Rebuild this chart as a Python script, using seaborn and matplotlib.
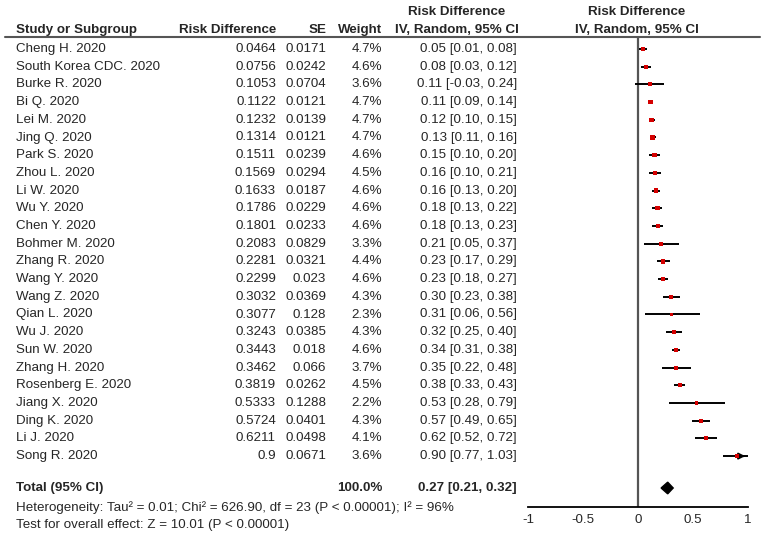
import numpy as np
import pandas as pd
import matplotlib
matplotlib.use("Agg")
import matplotlib.pyplot as plt
import seaborn as sns

sns.set_theme(style="white")
plt.rcParams["font.family"] = ["Liberation Sans", "DejaVu Sans"]

studies = ["Cheng H. 2020", "South Korea CDC. 2020", "Burke R. 2020", "Bi Q. 2020",
           "Lei M. 2020", "Jing Q. 2020", "Park S. 2020", "Zhou L. 2020", "Li W. 2020",
           "Wu Y. 2020", "Chen Y. 2020", "Bohmer M. 2020", "Zhang R. 2020", "Wang Y. 2020",
           "Wang Z. 2020", "Qian L. 2020", "Wu J. 2020", "Sun W. 2020", "Zhang H. 2020",
           "Rosenberg E. 2020", "Jiang X. 2020", "Ding K. 2020", "Li J. 2020", "Song R. 2020"]
risk_diff = [0.0464, 0.0756, 0.1053, 0.1122, 0.1232, 0.1314, 0.1511, 0.1569, 0.1633,
             0.1786, 0.1801, 0.2083, 0.2281, 0.2299, 0.3032, 0.3077, 0.3243, 0.3443,
             0.3462, 0.3819, 0.5333, 0.5724, 0.6211, 0.9]
se = [0.0171, 0.0242, 0.0704, 0.0121, 0.0139, 0.0121, 0.0239, 0.0294, 0.0187,
      0.0229, 0.0233, 0.0829, 0.0321, 0.023, 0.0369, 0.128, 0.0385, 0.018,
      0.066, 0.0262, 0.1288, 0.0401, 0.0498, 0.0671]
weight = [4.7, 4.6, 3.6, 4.7, 4.7, 4.7, 4.6, 4.5, 4.6, 4.6, 4.6, 3.3, 4.4, 4.6,
          4.3, 2.3, 4.3, 4.6, 3.7, 4.5, 2.2, 4.3, 4.1, 3.6]
ci_est = [0.05, 0.08, 0.11, 0.11, 0.12, 0.13, 0.15, 0.16, 0.16, 0.18, 0.18, 0.21,
          0.23, 0.23, 0.30, 0.31, 0.32, 0.34, 0.35, 0.38, 0.53, 0.57, 0.62, 0.90]
ci_low = [0.01, 0.03, -0.03, 0.09, 0.10, 0.11, 0.10, 0.10, 0.13, 0.13, 0.13, 0.05,
          0.17, 0.18, 0.23, 0.06, 0.25, 0.31, 0.22, 0.33, 0.28, 0.49, 0.52, 0.77]
ci_high = [0.08, 0.12, 0.24, 0.14, 0.15, 0.16, 0.20, 0.21, 0.20, 0.22, 0.23, 0.37,
           0.29, 0.27, 0.38, 0.56, 0.40, 0.38, 0.48, 0.43, 0.79, 0.65, 0.72, 1.03]
total_est, total_low, total_high = 0.27, 0.21, 0.32
total_weight = "100.0%"
heterogeneity = "Heterogeneity: Tau\u00b2 = 0.01; Chi\u00b2 = 626.90, df = 23 (P < 0.00001); I\u00b2 = 96%"
overall = "Test for overall effect: Z = 10.01 (P < 0.00001)"
x_ticks = [-1, -0.5, 0, 0.5, 1]
x_ticklabels = ["-1", "-0.5", "0", "0.5", "1"]

df = pd.DataFrame({"study": studies, "rd": risk_diff, "se": se, "weight": weight,
                   "est": ci_est, "lo": ci_low, "hi": ci_high})
df["row"] = np.arange(len(df))

W, H = 762, 537
ROW0, STEP = 49, 17.7          # pixel y of first row, row spacing
to_row = lambda p: (p - ROW0) / STEP
total_row = to_row(488)

fig = plt.figure(figsize=(W / 100, H / 100), dpi=100)

# text layer: x in pixels, y in row units
tx = fig.add_axes([0, 0, 1, 1])
tx.set_xlim(0, W)
tx.set_ylim(to_row(H), to_row(0))
tx.axis("off")

fs = 9.6
tx.text(16, to_row(30), "Study or Subgroup", fontsize=fs, fontweight="bold", va="center")
tx.text(276, to_row(30), "Risk Difference", fontsize=fs, fontweight="bold", va="center", ha="right")
tx.text(326, to_row(30), "SE", fontsize=fs, fontweight="bold", va="center", ha="right")
tx.text(382, to_row(30), "Weight", fontsize=fs, fontweight="bold", va="center", ha="right")
for cx in (457, 637):
    tx.text(cx, to_row(12), "Risk Difference", fontsize=fs, fontweight="bold", va="center", ha="center")
    tx.text(cx, to_row(30), "IV, Random, 95% CI", fontsize=fs, fontweight="bold", va="center", ha="center")
tx.plot([5, 760], [to_row(37), to_row(37)], color="#555555", lw=1.5)

for _, r in df.iterrows():
    y = r["row"]
    tx.text(16, y, r["study"], fontsize=fs, va="center")
    tx.text(276, y, str(r["rd"]), fontsize=fs, va="center", ha="right")
    tx.text(326, y, str(r["se"]), fontsize=fs, va="center", ha="right")
    tx.text(382, y, f"{r['weight']:.1f}%", fontsize=fs, va="center", ha="right")
    tx.text(517, y, f"{r['est']:.2f} [{r['lo']:.2f}, {r['hi']:.2f}]", fontsize=fs, va="center", ha="right")

tx.text(16, total_row, "Total (95% CI)", fontsize=fs, fontweight="bold", va="center")
tx.text(382, total_row, total_weight, fontsize=fs, fontweight="bold", va="center", ha="right")
tx.text(517, total_row, f"{total_est:.2f} [{total_low:.2f}, {total_high:.2f}]", fontsize=fs,
        fontweight="bold", va="center", ha="right")
tx.text(16, to_row(508), heterogeneity, fontsize=fs, va="center")
tx.text(16, to_row(525), overall, fontsize=fs, va="center")

# forest panel: x from -1 (px 528) to 1 (px 748), spanning header line to axis line
ax = fig.add_axes([528 / W, 1 - 507 / H, 220 / W, 470 / H])
ax.set_xlim(-1, 1)
ax.set_ylim(to_row(507), to_row(37))
ax.patch.set_alpha(0)
ax.axvline(0, color="#555555", lw=1.6, zorder=1)

for _, r in df.iterrows():
    hi = min(r["hi"], 1)
    ax.plot([r["lo"], hi], [r["row"], r["row"]], color="black", lw=1.4, zorder=2,
            solid_capstyle="butt")
    if r["hi"] > 1:
        ax.annotate("", xy=(1, r["row"]), xytext=(0.93, r["row"]),
                    arrowprops=dict(arrowstyle="-|>", color="black", lw=1.4,
                                    mutation_scale=9), annotation_clip=False)

sns.scatterplot(data=df, x="rd", y="row", marker="s", color="#d40000", size="weight",
                sizes=(5, 10), linewidth=0, legend=False, ax=ax, zorder=3)

ax.fill([total_low, total_est, total_high, total_est],
        [total_row, total_row - 0.33, total_row, total_row + 0.33],
        color="black", zorder=3)

for s in ("top", "right", "left"):
    ax.spines[s].set_visible(False)
ax.spines["bottom"].set_color("black")
ax.spines["bottom"].set_linewidth(1.3)
ax.set_yticks([])
ax.set_xticks(x_ticks)
ax.set_xticklabels(x_ticklabels, fontsize=fs)
ax.tick_params(axis="x", direction="inout", length=8, width=1.3, color="black", pad=1)
ax.set_xlabel("")
ax.set_ylabel("")

fig.savefig("out.png", dpi=100)
